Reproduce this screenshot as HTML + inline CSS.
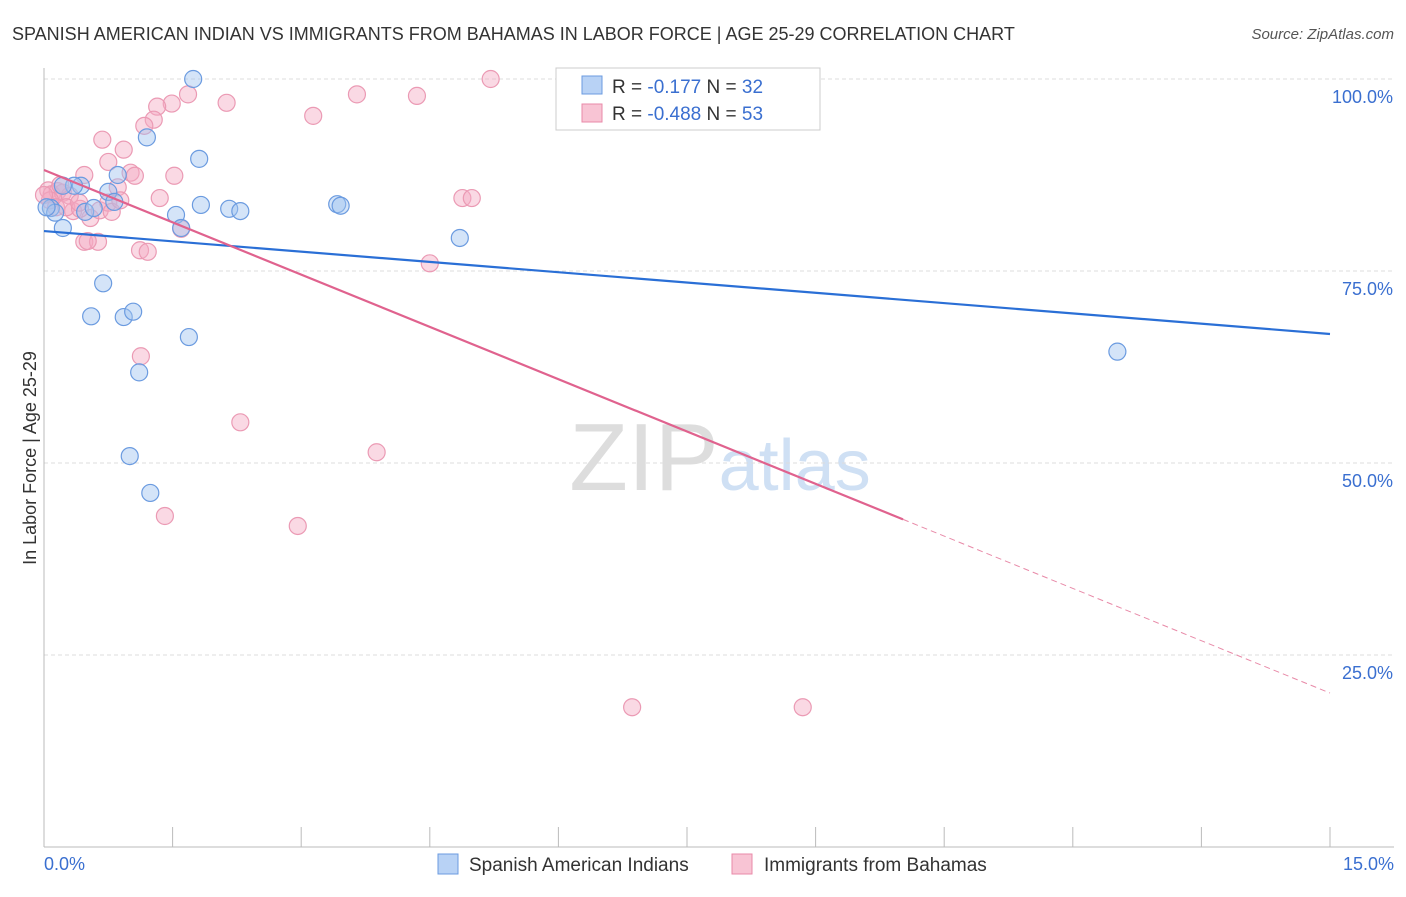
<!DOCTYPE html>
<html><head><meta charset="utf-8"><style>
body{margin:0;background:#fff;font-family:"Liberation Sans",sans-serif}
svg text{font-family:"Liberation Sans",sans-serif}
</style></head><body>
<svg id="c" width="1406" height="892">
<text x="12" y="40" font-size="18" fill="#333">SPANISH AMERICAN INDIAN VS IMMIGRANTS FROM BAHAMAS IN LABOR FORCE | AGE 25-29 CORRELATION CHART</text>
<text x="1394" y="39" font-size="15" fill="#555" font-style="italic" text-anchor="end">Source: ZipAtlas.com</text>
<text x="36" y="458" font-size="18" fill="#333" transform="rotate(-90 36 458)" text-anchor="middle">In Labor Force | Age 25-29</text>
<text x="720" y="490" font-size="96" fill="#ddd" text-anchor="middle" font-family="Liberation Serif">ZIP<tspan fill="#cfe0f4" font-family="Liberation Sans" font-size="72">atlas</tspan></text>
<g id="grid"></g><g id="axes"></g><g id="pts"></g><g id="lines"></g>
<g>
<rect x="556" y="68" width="264" height="62" fill="#fff" stroke="#ccc"/>
<rect x="582" y="76" width="20" height="18" fill="#b8d2f5" stroke="#6b9be0"/>
<text x="612" y="93" font-size="19" fill="#333">R = <tspan fill="#3a6fd0">-0.177</tspan>   N = <tspan fill="#3a6fd0">32</tspan></text>
<rect x="582" y="104" width="20" height="18" fill="#f8c4d4" stroke="#e98aa8"/>
<text x="612" y="120" font-size="19" fill="#333">R = <tspan fill="#3a6fd0">-0.488</tspan>   N = <tspan fill="#3a6fd0">53</tspan></text>
</g>
<g>
<rect x="438" y="854" width="20" height="20" fill="#b8d2f5" stroke="#6b9be0"/>
<text x="469" y="871" font-size="19" fill="#333">Spanish American Indians</text>
<rect x="732" y="854" width="20" height="20" fill="#f8c4d4" stroke="#e98aa8"/>
<text x="764" y="871" font-size="19" fill="#333">Immigrants from Bahamas</text>
</g>
</svg>
<script>
const blueX=[1.74,1.20,1.81,0.86,0.43,0.75,0.08,0.13,0.48,0.58,0.82,1.54,1.83,2.16,2.29,3.42,3.46,4.85,0.22,1.60,0.69,0.55,0.93,1.04,1.69,1.11,1.00,1.24,12.52,0.03,0.35,0.22];
const blueY=[100.0,92.4,89.6,87.5,86.1,85.3,83.2,82.6,82.7,83.2,84.0,82.3,83.6,83.1,82.8,83.7,83.5,79.3,80.6,80.6,73.4,69.1,69.0,69.7,66.4,61.8,50.9,46.1,64.5,83.3,86.1,86.1];
const pinkX=[5.21,2.13,1.68,3.65,4.35,3.14,1.49,1.32,1.28,1.17,0.68,0.93,0.75,0.47,1.52,1.01,1.06,1.35,4.88,4.99,0.05,0.09,0.16,0.22,0.30,0.34,0.54,0.65,0.75,0.79,0.86,0.89,0.07,0.14,0.26,0.42,0.00,0.47,0.63,1.12,1.21,4.50,1.60,0.51,1.13,2.29,3.88,1.41,2.96,6.86,8.85,0.19,0.41];
const pinkY=[100.0,96.9,98.0,98.0,97.8,95.2,96.8,96.4,94.7,93.9,92.1,90.8,89.2,87.5,87.4,87.8,87.4,84.5,84.5,84.5,85.5,85.0,85.4,85.2,84.8,82.8,81.9,82.9,83.9,82.7,85.9,84.2,84.2,83.3,83.3,83.1,84.9,78.8,78.8,77.7,77.5,76.0,80.5,78.9,63.9,55.3,51.4,43.1,41.8,18.2,18.2,86.2,83.9];
const blueTrend=[80.2,66.8];
const pinkTrend=[88.15,20.05];
const pinkSolidEnd=10.02;
const yTicks=[25,50,75,100];
const xTickLabels=["0.0%","15.0%"];
const NS="http://www.w3.org/2000/svg";
const sx=v=>44+v*(1330-44)/15;
const sy=v=>847-v*7.68;
function mk(t,a,p){const e=document.createElementNS(NS,t);for(const k in a)e.setAttribute(k,a[k]);document.getElementById(p).appendChild(e);return e;}
yTicks.forEach(t=>{
 const l=mk('line',{x1:44,x2:1394,y1:sy(t),y2:sy(t),stroke:'#ddd','stroke-dasharray':'4 3'},'grid');
 
 
 const tx=mk('text',{x:1393,y:sy(t)+24,'font-size':18,fill:'#3a6fd0','text-anchor':'end'},'grid');
 tx.textContent=t.toFixed(1)+'%';
 
 
});
const ax=mk('line',{x1:44,x2:44,y1:68,y2:847,stroke:'#bbb'},'axes');


const bx=mk('line',{x1:44,x2:1394,y1:847,y2:847,stroke:'#bbb'},'axes');


for(let i=0;i<=10;i++){const t=mk('line',{x1:sx(i*1.5),x2:sx(i*1.5),y1:827,y2:847,stroke:'#bbb'},'axes');
 
 }
const l0=mk('text',{x:44,y:870,'font-size':18,fill:'#3a6fd0'},'axes');l0.textContent=xTickLabels[0];


const l1=mk('text',{x:1394,y:870,'font-size':18,fill:'#3a6fd0','text-anchor':'end'},'axes');l1.textContent=xTickLabels[1];


pinkX.forEach((x,i)=>{const c=mk('circle',{cx:sx(x),cy:sy(pinkY[i]),r:8.5,fill:'rgba(244,170,195,0.45)',stroke:'#eb9ab4','stroke-width':1.2},'pts');
 
 });
blueX.forEach((x,i)=>{const c=mk('circle',{cx:sx(x),cy:sy(blueY[i]),r:8.5,fill:'rgba(160,195,240,0.45)',stroke:'#6b9be0','stroke-width':1.2},'pts');
 
 });
const bl=mk('line',{x1:sx(0),y1:sy(blueTrend[0]),x2:sx(15),y2:sy(blueTrend[1]),stroke:'#2a6fd6','stroke-width':2.2},'lines');


const pe=pinkTrend[0]+(pinkTrend[1]-pinkTrend[0])*pinkSolidEnd/15;
const pl=mk('line',{x1:sx(0),y1:sy(pinkTrend[0]),x2:sx(pinkSolidEnd),y2:sy(pe),stroke:'#e0628e','stroke-width':2.2},'lines');


const pd=mk('line',{x1:sx(pinkSolidEnd),y1:sy(pe),x2:sx(15),y2:sy(pinkTrend[1]),stroke:'#e88aa8','stroke-width':1,'stroke-dasharray':'6 4'},'lines');


</script>
</body></html>
